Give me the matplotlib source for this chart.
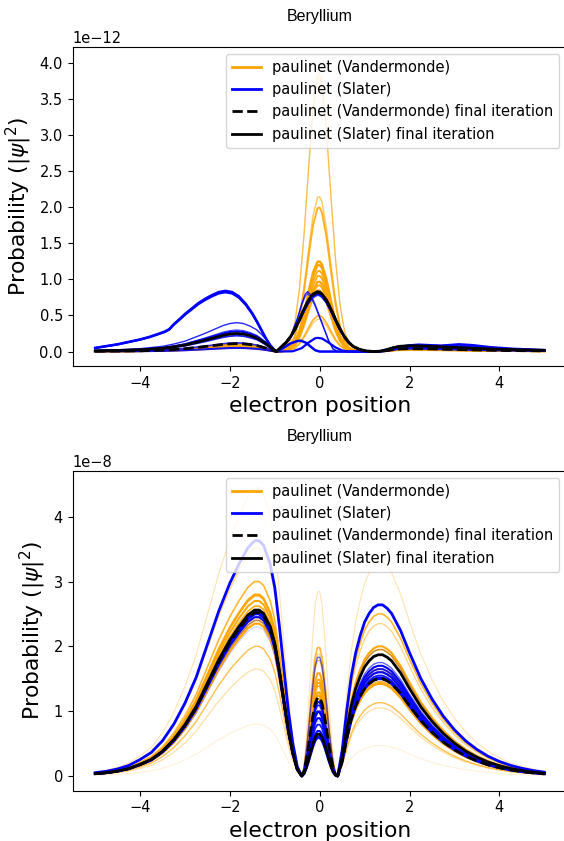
import numpy as np
import matplotlib
matplotlib.use("Agg")
import matplotlib.pyplot as plt
from matplotlib.lines import Line2D

# ---------------- TOP PANEL (units of 1e-12) ----------------
# lobe profiles (normalised to peak = 1)
top_left_big_x = [-5.0, -4.75, -4.5, -4.25, -4.0, -3.8, -3.6, -3.45, -3.35, -3.25, -3.1, -3.0, -2.85, -2.7, -2.55, -2.4, -2.25, -2.1, -1.95, -1.8, -1.65, -1.5, -1.4, -1.3, -1.2, -1.1, -1.0, -0.96]
top_left_big_y = [0.06, 0.09, 0.12, 0.16, 0.2, 0.24, 0.29, 0.33, 0.37, 0.45, 0.55, 0.62, 0.71, 0.8, 0.87, 0.93, 0.98, 1.0, 0.98, 0.91, 0.79, 0.63, 0.5, 0.36, 0.22, 0.1, 0.02, 0.0]

top_left_small_x = [-5.0, -4.5, -4.0, -3.5, -3.25, -3.0, -2.8, -2.6, -2.45, -2.3, -2.15, -2.0, -1.85, -1.7, -1.55, -1.4, -1.3, -1.2, -1.1, -1.0, -0.96]
top_left_small_y = [0.04, 0.06, 0.1, 0.18, 0.26, 0.36, 0.48, 0.6, 0.7, 0.8, 0.9, 0.97, 1.0, 0.97, 0.88, 0.75, 0.6, 0.43, 0.24, 0.06, 0.0]

top_mid_x = [-0.96, -0.85, -0.75, -0.65, -0.55, -0.45, -0.35, -0.25, -0.15, -0.05, 0.0, 0.05, 0.15, 0.25, 0.35, 0.45, 0.55, 0.65, 0.75, 0.9, 1.05, 1.2]
top_mid_narrow_y = [0.0, 0.004, 0.014, 0.042, 0.106, 0.228, 0.419, 0.655, 0.873, 0.993, 0.997, 0.962, 0.794, 0.558, 0.335, 0.171, 0.074, 0.028, 0.009, 0.002, 0.0, 0.0]
top_mid_wide_y = [0.0, 0.085, 0.15, 0.25, 0.38, 0.54, 0.71, 0.86, 0.96, 1.0, 0.99, 0.96, 0.86, 0.71, 0.54, 0.38, 0.25, 0.15, 0.085, 0.031, 0.009, 0.0]

top_skew_x = [-0.96, -0.8, -0.65, -0.5, -0.4, -0.32, -0.27, -0.2, -0.1, 0.0, 0.1, 0.2, 0.3, 0.4, 0.6, 1.2]
top_skew_y = [0.0, 0.08, 0.25, 0.55, 0.8, 0.96, 1.0, 0.94, 0.78, 0.58, 0.38, 0.18, 0.04, 0.0, 0.0, 0.0]

top_bump_a_x = [-0.96, -0.8, -0.65, -0.5, -0.42, -0.3, -0.2, -0.1, 0.0, 1.2]
top_bump_a_y = [0.0, 0.35, 0.75, 0.97, 1.0, 0.8, 0.45, 0.12, 0.0, 0.0]

top_bump_b_x = [-0.96, -0.6, -0.4, -0.25, -0.1, -0.05, 0.05, 0.2, 0.35, 0.5, 0.65, 1.2]
top_bump_b_y = [0.0, 0.02, 0.25, 0.65, 0.97, 1.0, 0.95, 0.65, 0.3, 0.08, 0.0, 0.0]

top_right_x = [1.2, 1.35, 1.5, 1.65, 1.8, 2.0, 2.25, 2.5, 3.0, 3.5, 4.0, 4.5, 5.0]
top_right_y = [0.0, 0.08, 0.35, 0.7, 0.92, 1.0, 0.97, 0.9, 0.72, 0.55, 0.4, 0.3, 0.22]

top_right2_x = [1.2, 1.4, 1.6, 1.8, 2.0, 2.2, 2.45, 2.7, 2.9, 3.1, 3.4, 3.8, 4.3, 5.0]
top_right2_y = [0.0, 0.05, 0.3, 0.62, 0.85, 0.95, 0.88, 0.82, 0.9, 1.0, 0.88, 0.6, 0.38, 0.2]

# curve amplitudes (peak heights)
top_orange_left = [0.08, 0.06, 0.1, 0.1, 0.09, 0.08, 0.1, 0.07, 0.09, 0.06, 0.08, 0.05, 0.05]
top_orange_mid = [3.87, 3.82, 2.15, 2.0, 1.25, 1.2, 1.12, 1.05, 0.97, 0.92, 0.85, 0.5, 0.45]
top_orange_right = [0.04, 0.03, 0.05, 0.05, 0.04, 0.03, 0.04, 0.03, 0.03, 0.04, 0.03, 0.02, 0.02]
top_orange_alpha = [0.45, 0.5, 0.6, 0.85, 1.0, 1.0, 0.9, 0.9, 1.0, 0.9, 0.9, 0.8, 0.5]
top_orange_lw = [0.9, 0.9, 1.0, 1.4, 1.8, 1.6, 1.4, 1.4, 1.6, 1.4, 1.4, 1.3, 1.0]

top_blue_left_shape = ["big", "big", "small", "small", "small", "small", "small", "small"]
top_blue_left = [0.84, 0.82, 0.4, 0.3, 0.28, 0.22, 0.12, 0.05]
top_blue_mid_shape = ["bump_a", "bump_b", "skew", "skew", "wide", "wide", "wide", "wide"]
top_blue_mid = [0.15, 0.19, 0.83, 0.8, 0.8, 0.82, 0.78, 0.8]
top_blue_right_shape = ["r2", "r1", "r2", "r1", "r1", "r2", "r1", "r1"]
top_blue_right = [0.1, 0.08, 0.09, 0.06, 0.08, 0.07, 0.05, 0.04]
top_blue_alpha = [1.0, 1.0, 0.85, 0.7, 1.0, 0.9, 0.8, 0.9]
top_blue_lw = [1.8, 1.6, 1.0, 0.8, 1.5, 1.3, 1.2, 1.5]

top_black_left = [0.11, 0.25]     # dashed (Vandermonde final), solid (Slater final)
top_black_mid = [0.82, 0.83]
top_black_right = [0.04, 0.08]

# ---------------- BOTTOM PANEL (units of 1e-8) ----------------
bot_left_x = [-5.0, -4.75, -4.5, -4.25, -4.0, -3.75, -3.5, -3.25, -3.0, -2.75, -2.5, -2.25, -2.0, -1.8, -1.6, -1.45, -1.35, -1.25, -1.1, -1.0, -0.9, -0.8, -0.7, -0.6, -0.5, -0.4]
bot_left_y = [0.014, 0.02, 0.03, 0.045, 0.07, 0.1, 0.15, 0.22, 0.31, 0.42, 0.56, 0.7, 0.82, 0.9, 0.97, 1.0, 1.0, 0.98, 0.9, 0.8, 0.64, 0.46, 0.28, 0.14, 0.04, 0.0]

bot_mid_x = [-0.4, -0.35, -0.3, -0.25, -0.2, -0.15, -0.1, -0.05, 0.0, 0.05, 0.1, 0.15, 0.2, 0.25, 0.3, 0.35, 0.4]
bot_mid_y = [0.0, 0.06, 0.2, 0.38, 0.58, 0.77, 0.92, 0.99, 0.99, 0.92, 0.78, 0.6, 0.41, 0.24, 0.1, 0.02, 0.0]

bot_right_x = [0.4, 0.5, 0.6, 0.7, 0.8, 0.9, 1.0, 1.1, 1.2, 1.3, 1.4, 1.5, 1.6, 1.8, 2.0, 2.25, 2.5, 2.75, 3.0, 3.25, 3.5, 3.75, 4.0, 4.25, 4.5, 4.75, 5.0]
bot_right_y = [0.0, 0.15, 0.38, 0.58, 0.72, 0.82, 0.9, 0.95, 0.985, 1.0, 1.0, 0.98, 0.95, 0.85, 0.72, 0.57, 0.45, 0.35, 0.27, 0.205, 0.155, 0.115, 0.085, 0.062, 0.045, 0.032, 0.022]

bot_orange_left = [4.45, 3.52, 3.0, 2.8, 2.78, 2.7, 2.62, 2.45, 2.4, 2.35, 2.0, 1.65, 0.8]
bot_orange_mid = [2.87, 1.9, 2.0, 1.6, 1.5, 1.45, 1.4, 1.3, 1.2, 1.25, 1.8, 1.05, 0.5]
bot_orange_right = [3.3, 2.35, 2.5, 2.0, 1.95, 1.65, 1.6, 1.5, 1.45, 1.42, 1.13, 1.05, 0.47]
bot_orange_alpha = [0.3, 0.5, 0.8, 0.95, 0.9, 1.0, 0.9, 1.0, 0.9, 1.0, 0.7, 0.35, 0.15]
bot_orange_lw = [0.8, 0.9, 1.2, 1.5, 1.3, 1.4, 1.3, 1.6, 1.3, 1.5, 1.0, 0.9, 0.8]

bot_blue_left = [3.63, 2.55, 2.5, 2.55, 2.45, 2.5, 2.52, 2.4, 2.5, 2.3]
bot_blue_mid = [1.0, 1.85, 1.15, 1.1, 0.9, 0.8, 0.7, 1.0, 0.6, 0.85]
bot_blue_right = [2.64, 1.75, 1.7, 1.65, 1.6, 1.55, 1.52, 1.62, 1.5, 1.95]
bot_blue_alpha = [1.0, 0.6, 1.0, 0.9, 1.0, 0.9, 1.0, 0.3, 1.0, 0.2]
bot_blue_lw = [2.0, 1.0, 1.5, 1.3, 1.5, 1.3, 1.5, 0.8, 2.0, 0.8]

bot_black_left = [2.52, 2.56]
bot_black_mid = [1.22, 0.65]
bot_black_right = [1.5, 1.87]

legend_labels = ["paulinet (Vandermonde)", "paulinet (Slater)",
                 "paulinet (Vandermonde) final iteration", "paulinet (Slater) final iteration"]

TOP_LEFT = {"big": (top_left_big_x, top_left_big_y), "small": (top_left_small_x, top_left_small_y)}
TOP_MID = {"narrow": (top_mid_x, top_mid_narrow_y), "wide": (top_mid_x, top_mid_wide_y),
           "skew": (top_skew_x, top_skew_y), "bump_a": (top_bump_a_x, top_bump_a_y),
           "bump_b": (top_bump_b_x, top_bump_b_y)}
TOP_RIGHT = {"r1": (top_right_x, top_right_y), "r2": (top_right2_x, top_right2_y)}
BOT_L = (bot_left_x, bot_left_y)
BOT_M = (bot_mid_x, bot_mid_y)
BOT_R = (bot_right_x, bot_right_y)


def build(parts, scale):
    xs, ys = [], []
    for i, (prof, amp) in enumerate(parts):
        px = np.asarray(prof[0], float)
        py = np.asarray(prof[1], float) * amp
        if i > 0:
            px, py = px[1:], py[1:]
        xs.append(px)
        ys.append(py)
    return np.concatenate(xs), np.concatenate(ys) * scale


fig = plt.figure(figsize=(5.64, 8.41), dpi=100)
ax1 = fig.add_axes([0.1289, 0.5648, 0.876, 0.3797])
ax2 = fig.add_axes([0.1289, 0.0598, 0.876, 0.3805])

ORANGE = "orange"
BLUE = "blue"

# --- top panel
s = 1e-12
for i in range(len(top_orange_mid)):
    x, y = build([(TOP_LEFT["small"], top_orange_left[i]), (TOP_MID["narrow"], top_orange_mid[i]),
                  (TOP_RIGHT["r1"], top_orange_right[i])], s)
    ax1.plot(x, y, color=ORANGE, alpha=top_orange_alpha[i], lw=top_orange_lw[i])
for i in range(len(top_blue_mid)):
    x, y = build([(TOP_LEFT[top_blue_left_shape[i]], top_blue_left[i]),
                  (TOP_MID[top_blue_mid_shape[i]], top_blue_mid[i]),
                  (TOP_RIGHT[top_blue_right_shape[i]], top_blue_right[i])], s)
    ax1.plot(x, y, color=BLUE, alpha=top_blue_alpha[i], lw=top_blue_lw[i])
for i, ls in enumerate(["--", "-"]):
    x, y = build([(TOP_LEFT["small"], top_black_left[i]), (TOP_MID["wide"], top_black_mid[i]),
                  (TOP_RIGHT["r1"], top_black_right[i])], s)
    ax1.plot(x, y, color="black", ls=ls, lw=2.0)

# --- bottom panel
s = 1e-8
for i in range(len(bot_orange_mid)):
    x, y = build([(BOT_L, bot_orange_left[i]), (BOT_M, bot_orange_mid[i]), (BOT_R, bot_orange_right[i])], s)
    ax2.plot(x, y, color=ORANGE, alpha=bot_orange_alpha[i], lw=bot_orange_lw[i])
for i in range(len(bot_blue_mid)):
    x, y = build([(BOT_L, bot_blue_left[i]), (BOT_M, bot_blue_mid[i]), (BOT_R, bot_blue_right[i])], s)
    ax2.plot(x, y, color=BLUE, alpha=bot_blue_alpha[i], lw=bot_blue_lw[i])
for i, ls in enumerate(["--", "-"]):
    x, y = build([(BOT_L, bot_black_left[i]), (BOT_M, bot_black_mid[i]), (BOT_R, bot_black_right[i])], s)
    ax2.plot(x, y, color="black", ls=ls, lw=2.0)

handles = [Line2D([], [], color=ORANGE, lw=2), Line2D([], [], color=BLUE, lw=2),
           Line2D([], [], color="black", lw=2, ls="--"), Line2D([], [], color="black", lw=2)]

for ax, ylim, pad in [(ax1, (-0.2e-12, 4.22e-12), 18.5), (ax2, (-0.227e-8, 4.71e-8), 21.4)]:
    ax.set_xlim(-5.5, 5.5)
    ax.set_ylim(*ylim)
    ax.set_xticks([-4, -2, 0, 2, 4])
    ax.tick_params(labelsize=10.5)
    ax.yaxis.get_offset_text().set_fontsize(10.5)
    ax.set_title("Beryllium", fontsize=11.5, family=["Liberation Sans", "DejaVu Sans"], pad=pad)
    ax.set_xlabel("electron position", fontsize=15.7)
    ax.set_ylabel(r"Probability ($|\psi|^2$)", fontsize=15.7)
    ax.legend(handles, legend_labels, loc="upper right", fontsize=10.5)

fig.savefig("out.png", dpi=100)
